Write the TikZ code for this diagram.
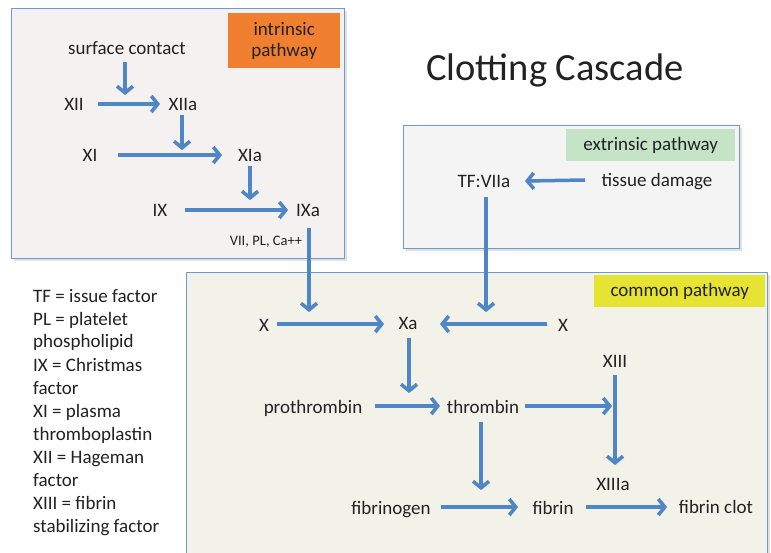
\documentclass[tikz,border=0pt]{standalone}
\usepackage{fontspec}
\setmainfont{Carlito}
\usetikzlibrary{arrows.meta}
\definecolor{arrowblue}{HTML}{4F86C6}
\definecolor{boxline}{HTML}{6C9BD2}
\definecolor{intrfill}{HTML}{F6F1F1}
\definecolor{extrfill}{HTML}{F4F4F4}
\definecolor{commfill}{HTML}{F3F2E9}
\definecolor{orangelab}{HTML}{F07F30}
\definecolor{greenlab}{HTML}{C4E3C7}
\definecolor{yellowlab}{HTML}{E6E332}
\definecolor{txtcol}{HTML}{222222}
\begin{document}
\begin{tikzpicture}[x=1pt,y=-1pt,
  txt/.style={inner sep=0pt, text=txtcol, font=\fontsize{19}{23}\selectfont, text height=14pt, text depth=0pt},
  small/.style={inner sep=0pt, text=txtcol, font=\fontsize{14.5}{17}\selectfont},
  panel/.style={draw=boxline, line width=1pt, inner sep=0pt, anchor=north west,
     preaction={fill=black, opacity=0.12, transform canvas={shift={(2.5pt,-2.5pt)}}}},
  lab/.style={inner sep=0pt, anchor=north west, text=txtcol, font=\fontsize{19}{22}\selectfont, align=center},
  arr/.style={draw=arrowblue, line width=3.5pt, -{Straight Barb[length=6.5pt,width=16pt]},
     preaction={draw=black!45, opacity=0.35, transform canvas={shift={(1.2pt,-1.5pt)}}}}
]
\useasboundingbox (0,0) rectangle (771,553);
\fill[white] (0,0) rectangle (771,553);

% panels
\node[panel, fill=intrfill, minimum width=333pt, minimum height=250pt] (intr) at (11,8) {};
\node[panel, fill=extrfill, minimum width=336pt, minimum height=123pt] (extr) at (403,125) {};
\node[panel, fill=commfill, minimum width=581pt, minimum height=290pt] (comm) at (186,272) {};

% labels
\node[lab, fill=orangelab, minimum width=112pt, minimum height=55pt] (ilab) at (228,13) {intrinsic\\[-1pt]pathway};
\node[lab, fill=greenlab, minimum width=169pt, minimum height=32pt] (elab) at (566,129) {extrinsic pathway};
\node[lab, fill=yellowlab, minimum width=171pt, minimum height=32pt] (clab) at (594,275) {common pathway};

% title
\node[inner sep=0pt, text=txtcol, font=\fontsize{38.5}{44}\selectfont] (title) at (555,70) {Clotting Cascade};

% intrinsic nodes
\node[txt] (sc) at (127,48) {surface contact};
\node[txt] (XII) at (74,104) {XII};
\node[txt] (XIIa) at (183,104) {XIIa};
\node[txt] (XI) at (90,155) {XI};
\node[txt] (XIa) at (250,155) {XIa};
\node[txt] (IX) at (160,210) {IX};
\node[txt] (IXa) at (308,210) {IXa};
\node[small] (cof) at (266,242) {VII, PL, Ca++};

% extrinsic nodes
\node[txt] (TF) at (484,181) {TF:VIIa};
\node[txt] (td) at (657,180) {tissue damage};

% common nodes
\node[txt] (X1) at (264,324) {X};
\node[txt] (Xa) at (408,323) {Xa};
\node[txt] (X2) at (563,324) {X};
\node[txt] (XIII) at (615,360) {XIII};
\node[txt] (pro) at (313,406) {prothrombin};
\node[txt] (thr) at (483,406) {thrombin};
\node[txt] (XIIIa) at (613,483) {XIIIa};
\node[txt] (fbg) at (391,507) {fibrinogen};
\node[txt] (fib) at (553,507) {fibrin};
\node[txt] (clot) at (716,506) {fibrin clot};

% free ends
\coordinate (e1) at (125,95);
\coordinate (e2) at (182,150);
\coordinate (e3) at (250,200);
\coordinate (e4) at (309,312);
\coordinate (e5) at (486,312);
\coordinate (e6) at (612,406);
\coordinate (e7) at (409,393);
\coordinate (e8) at (481,490);

% legend
\foreach \t [count=\i from 0] in {TF = issue factor, PL = platelet, phospholipid, IX = Christmas, factor, XI = plasma, thromboplastin, XII = Hageman, factor, XIII = fibrin, stabilizing factor}
  \node[txt, anchor=west] (leg\i) at (33,{295+23*\i}) {\t};

% intrinsic arrows
\draw[arr] ([shift={(-2,14)}]sc.center) -- (e1);
\draw[arr] ([xshift=24pt]XII.center) -- ([xshift=-23pt]XIIa.center);
\draw[arr] ([shift={(-1,11)}]XIIa.center) -- (e2);
\draw[arr] ([xshift=28pt]XI.center) -- ([xshift=-28pt]XIa.center);
\draw[arr] ([shift={(0,11)}]XIa.center) -- (e3);
\draw[arr] ([xshift=25pt]IX.center) -- ([xshift=-20pt]IXa.center);
\draw[arr] ([shift={(1,18)}]IXa.center) -- (e4);

% extrinsic arrows
\draw[arr] ([xshift=-72pt]td.center) -- ([xshift=41pt]TF.center);
\draw[arr] ([shift={(2,16)}]TF.center) -- (e5);

% common arrows
\draw[arr] ([xshift=13pt]X1.center) -- ([xshift=-24pt]Xa.center |- X1.center);
\draw[arr] ([xshift=-16pt]X2.center) -- ([xshift=32pt]Xa.center |- X2.center);
\draw[arr] ([shift={(1,15)}]Xa.center) -- (e7);
\draw[arr] ([xshift=62pt]pro.center) -- ([xshift=-43pt]thr.center);
\draw[arr] ([xshift=42pt]thr.center) -- (e6);
\draw[arr] ([shift={(0,15)}]XIII.center) -- ([shift={(0,-18)}]XIII.center |- XIIIa.center);
\draw[arr] ([shift={(-2,16)}]thr.center) -- (e8);
\draw[arr] ([xshift=50pt]fbg.center) -- ([xshift=-35pt]fib.center);
\draw[arr] ([xshift=33pt]fib.center) -- ([xshift=-49pt]clot.center |- fib.center);
\end{tikzpicture}
\end{document}
